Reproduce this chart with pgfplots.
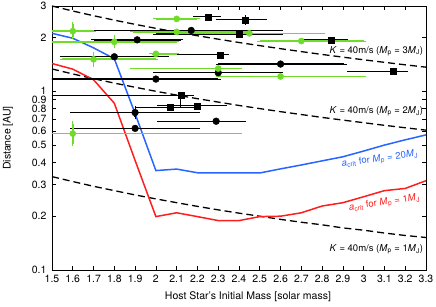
\documentclass[border=0pt]{standalone}
\usepackage{pgfplots}
\pgfplotsset{compat=1.18}
\usepackage{pgfplotstable}
\usepackage{fontspec}
\setmainfont{TeX Gyre Heros}
\definecolor{lgreen}{RGB}{110,220,40}
\definecolor{cblue}{RGB}{40,100,255}
\definecolor{cred}{RGB}{255,30,30}

\pgfplotstableread{
x y xm xp ym yp
2.10 2.54 0.10 0.10 0 0
1.60 2.17 0.20 0.10 0.15 0.20
2.10 2.15 0.21 0.35 0 0
2.45 2.11 0.35 0.35 0 0
1.80 1.89 0.40 0.30 0.09 0.11
1.70 1.51 0.15 0.30 0.09 0.09
2.00 1.62 0.02 0.10 0 0
2.30 1.34 0.41 0.10 0 0
2.60 1.21 0.30 0.40 0 0
2.70 1.91 0.20 0.30 0 0
1.60 0.58 0.20 0.80 0.07 0.08
}\greenpts

\pgfplotstableread{
x y xm xp ym yp
2.17 2.19 0.47 0.43 0 0
1.91 1.94 0.21 0.21 0 0
1.80 1.56 0.25 0.25 0 0
2.60 1.42 0.30 0.305 0 0
2.00 1.17 0.60 0.30 0 0
1.90 0.76 0.30 0.30 0.04 0.04
2.29 0.68 0.27 0.13 0 0
1.90 0.62 0.30 0.30 0 0
2.30 1.27 0.30 0.30 0 0
}\blackcirc

\pgfplotstableread{
x y xm xp ym yp
2.25 2.61 0.06 0.05 0 0
2.43 2.51 0.13 0.09 0.08 0.08
2.40 2.09 0.40 0.20 0.03 0.03
2.845 1.94 0.145 0.065 0 0
2.31 1.60 0.31 0.03 0 0
3.14 1.29 0.21 0.06 0 0
2.12 0.95 0.72 0.05 0.11 0.01
2.07 0.81 0.16 0.13 0 0
2.20 0.83 0.18 0.13 0 0
}\blacksq

\begin{document}
\begin{tikzpicture}
\begin{axis}[
  at={(0,0)}, anchor=south west,
  width=374pt, height=264pt, scale only axis,
  xmin=1.5, xmax=3.3,
  ymode=log, ymin=0.1, ymax=3,
  xtick={1.5,1.6,1.7,1.8,1.9,2.0,2.1,2.2,2.3,2.4,2.5,2.6,2.7,2.8,2.9,3.0,3.1,3.2,3.3},
  xticklabels={1.5,1.6,1.7,1.8,1.9,2,2.1,2.2,2.3,2.4,2.5,2.6,2.7,2.8,2.9,3,3.1,3.2,3.3},
  ytick={0.1,0.2,0.3,0.4,0.5,0.6,0.7,0.8,0.9,1,2,3},
  yticklabels={0.1,0.2,0.3,0.4,0.5,0.6,0.7,0.8,0.9,1,2,3},
  minor ytick={},
  tick align=inside,
  major tick length=4pt,
  tick style={black, line width=0.6pt},
  axis line style={line width=0.8pt},
  ticklabel style={font=\fontsize{10.5}{12}\selectfont},
  xticklabel style={yshift=-1.5pt},
  yticklabel style={xshift=-2pt},
  /pgf/number format/assume math mode=true,
  xlabel={Host Star's Initial Mass [solar mass]},
  ylabel={Distance [AU]},
  label style={font=\fontsize{10.5}{12}\selectfont},
  xlabel style={at={(axis description cs:0.524,-0.1023)}, anchor=center},
  ylabel style={at={(axis description cs:-0.1176,0.5)}, anchor=center},
  clip=true,
]
% K = 40 m/s lines
\addplot[black, line width=1.3pt, dash pattern=on 7pt off 4pt] coordinates {
(1.5,3.000)(1.6,2.8125)(1.7,2.647)(1.8,2.500)(1.9,2.368)(2.0,2.250)(2.1,2.143)(2.2,2.045)(2.3,1.957)(2.4,1.875)(2.5,1.800)(2.6,1.731)(2.7,1.667)(2.8,1.607)(2.9,1.552)(3.0,1.500)(3.1,1.452)(3.2,1.406)(3.3,1.364)};
\addplot[black, line width=1.3pt, dash pattern=on 7pt off 4pt] coordinates {
(1.5,1.333)(1.6,1.25)(1.7,1.176)(1.8,1.111)(1.9,1.053)(2.0,1.0)(2.1,0.952)(2.2,0.909)(2.3,0.870)(2.4,0.833)(2.5,0.8)(2.6,0.769)(2.7,0.741)(2.8,0.714)(2.9,0.690)(3.0,0.667)(3.1,0.645)(3.2,0.625)(3.3,0.606)};
\addplot[black, line width=1.3pt, dash pattern=on 7pt off 4pt] coordinates {
(1.5,0.333)(1.6,0.3125)(1.7,0.294)(1.8,0.278)(1.9,0.263)(2.0,0.25)(2.1,0.238)(2.2,0.227)(2.3,0.217)(2.4,0.208)(2.5,0.2)(2.6,0.192)(2.7,0.185)(2.8,0.179)(2.9,0.172)(3.0,0.167)(3.1,0.161)(3.2,0.156)(3.3,0.152)};
% a_crit curves
\addplot[cblue, line width=1.5pt] coordinates {
(1.5,2.11)(1.6,1.98)(1.7,1.75)(1.8,1.52)(1.9,0.75)(2.0,0.36)(2.1,0.367)(2.2,0.350)(2.3,0.349)(2.4,0.349)(2.5,0.349)(2.6,0.368)(2.7,0.387)(2.8,0.408)(2.9,0.430)(3.0,0.463)(3.1,0.50)(3.2,0.535)(3.3,0.57)};
\addplot[cred, line width=1.5pt] coordinates {
(1.5,1.43)(1.6,1.33)(1.7,1.16)(1.8,0.857)(1.9,0.41)(2.0,0.199)(2.1,0.209)(2.2,0.199)(2.3,0.189)(2.4,0.189)(2.5,0.199)(2.6,0.200)(2.7,0.209)(2.8,0.228)(2.9,0.238)(3.0,0.257)(3.1,0.278)(3.2,0.286)(3.3,0.316)};
% data points
\addplot[black, only marks, mark=*, mark size=3.4pt,
  error bars/.cd, x dir=both, x explicit, y dir=both, y explicit,
  error bar style={line width=1.3pt, black},
  error mark options={black, mark size=2.6pt, line width=0.9pt}]
  table[x=x, y=y, x error minus=xm, x error plus=xp, y error minus=ym, y error plus=yp]{\blackcirc};
\addplot[black, only marks, mark=square*, mark size=3pt,
  error bars/.cd, x dir=both, x explicit, y dir=both, y explicit,
  error bar style={line width=1.3pt, black},
  error mark options={black, mark size=2.6pt, line width=0.9pt}]
  table[x=x, y=y, x error minus=xm, x error plus=xp, y error minus=ym, y error plus=yp]{\blacksq};
\addplot[lgreen, only marks, mark=*, mark size=3.1pt, mark options={fill=lgreen, draw=lgreen},
  error bars/.cd, x dir=both, x explicit, y dir=both, y explicit,
  error bar style={line width=1.6pt, lgreen},
  error mark options={lgreen, mark size=2.6pt, line width=0.9pt}]
  table[x=x, y=y, x error minus=xm, x error plus=xp, y error minus=ym, y error plus=yp]{\greenpts};
% annotations
\node[anchor=east, font=\fontsize{9.5}{11}\selectfont, inner sep=1pt] at (axis cs:3.292,1.68) {\textit{K} = 40m/s (\textit{M}\textsubscript{p} = 3\textit{M}\textsubscript{J})};
\node[anchor=east, font=\fontsize{9.5}{11}\selectfont, inner sep=1pt] at (axis cs:3.292,0.769) {\textit{K} = 40m/s (\textit{M}\textsubscript{p} = 2\textit{M}\textsubscript{J})};
\node[anchor=east, font=\fontsize{9.5}{11}\selectfont, inner sep=1pt] at (axis cs:3.292,0.131) {\textit{K} = 40m/s (\textit{M}\textsubscript{p} = 1\textit{M}\textsubscript{J})};
\node[cblue, rotate=8, font=\fontsize{9.5}{11}\selectfont, inner sep=1pt] at (axis cs:3.078,0.418) {\textit{a}\textsubscript{crit} for \textit{M}\textsubscript{p} = 20\textit{M}\textsubscript{J}};
\node[cred, rotate=8, font=\fontsize{9.5}{11}\selectfont, inner sep=1pt] at (axis cs:3.10,0.237) {\textit{a}\textsubscript{crit} for \textit{M}\textsubscript{p} = 1\textit{M}\textsubscript{J}};
\end{axis}
\pgfresetboundingbox
\useasboundingbox (-52pt,-37pt) rectangle (384pt,270pt);
\end{tikzpicture}
\end{document}
